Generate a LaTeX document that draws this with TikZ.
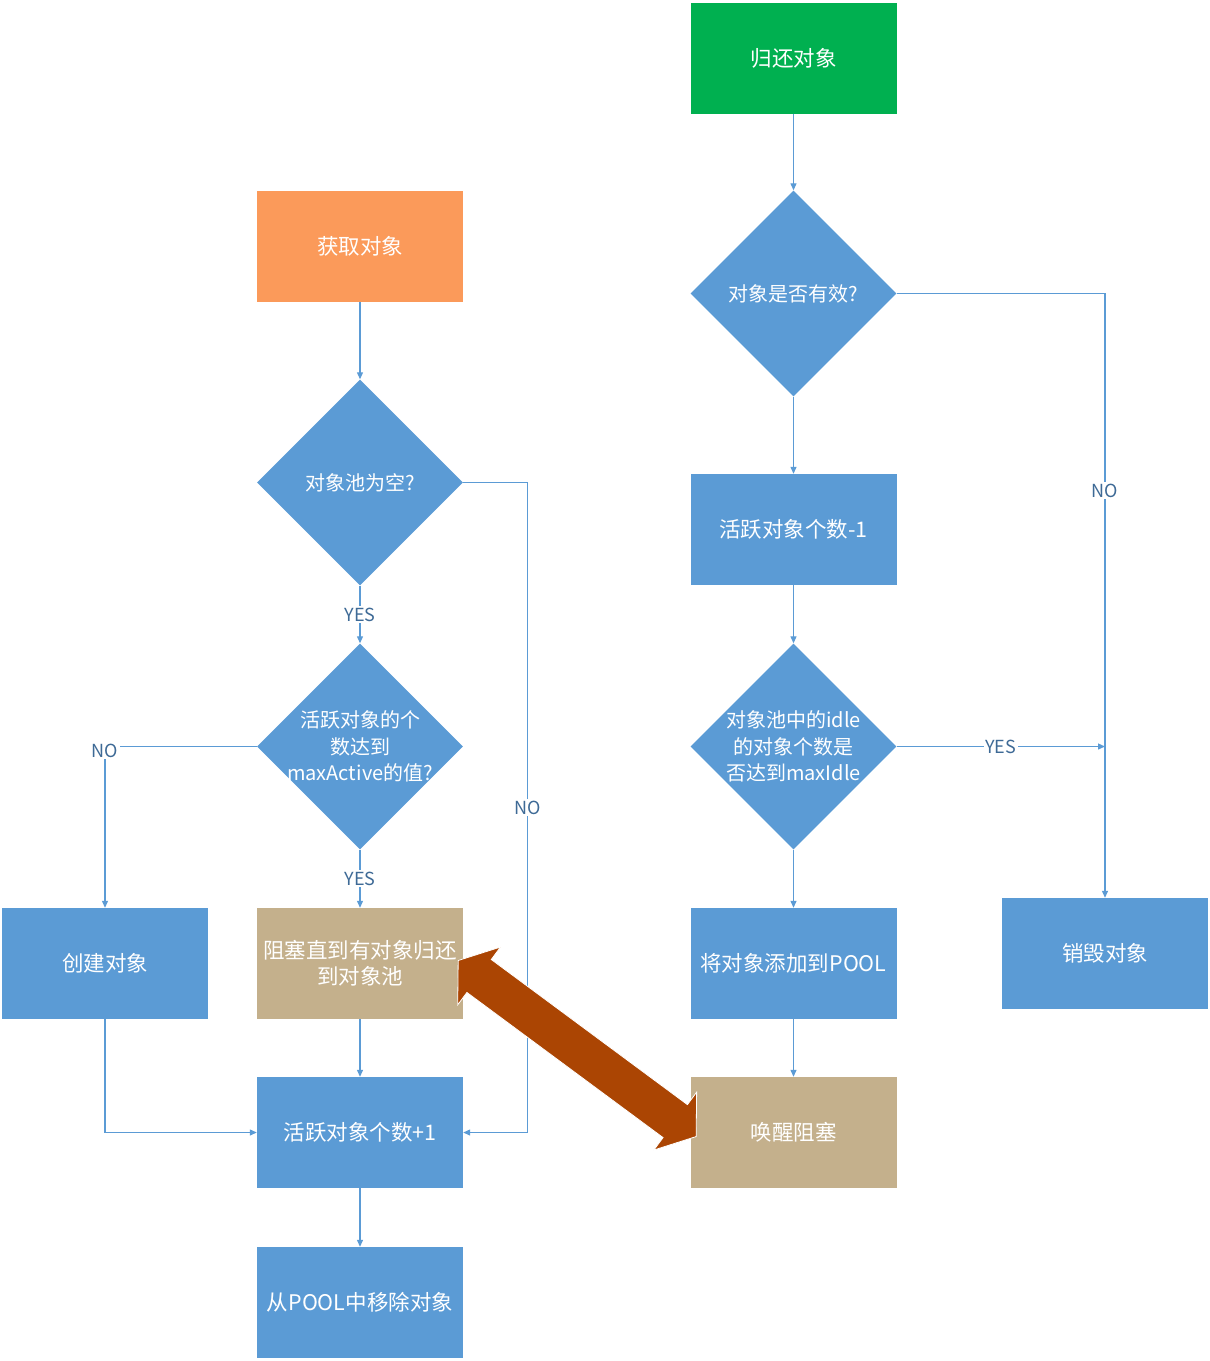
\documentclass[tikz,border=0pt]{standalone}
\usepackage{fontspec}
\setmainfont{Noto Sans CJK SC}
\usetikzlibrary{shapes.geometric,arrows.meta,calc}
\definecolor{boxblue}{HTML}{5B9BD5}
\definecolor{lineblue}{HTML}{5B9BD5}
\definecolor{lblblue}{HTML}{3E6A96}
\definecolor{boxtan}{HTML}{C4B08C}
\definecolor{boxorange}{HTML}{FB9A5A}
\definecolor{boxgreen}{HTML}{00B050}
\definecolor{bigarrow}{HTML}{AB4503}
\begin{document}
\begin{tikzpicture}[x=1pt,y=-1pt,
  box/.style={rectangle, fill=boxblue, minimum width=206pt, minimum height=111pt, inner sep=0pt, text=white, font=\fontsize{21.5}{26}\selectfont, align=center},
  dia/.style={diamond, aspect=1, fill=boxblue, minimum width=206pt, minimum height=206pt, inner sep=0pt},
  dtext/.style={text=white, font=\fontsize{20}{26.5}\selectfont, align=center, inner sep=0pt},
  conn/.style={draw=lineblue, line width=1.2pt, -{Triangle[length=7pt,width=6pt]}},
  lbl/.style={fill=white, text=lblblue, font=\fontsize{18}{20}\selectfont, inner sep=1.5pt}]
\useasboundingbox (0,0) rectangle (1210,1361);

% left column
\node[box, fill=boxorange] (get) at (360,246.5) {获取对象};
\node[dia] (d1) at (360,482.5) {};
\node[dtext] at (d1) {对象池为空?};
\node[dia] (d2) at (360,746.5) {};
\node[dtext] at (d2) {活跃对象的个\\数达到\\maxActive的值?};
\node[box] (create) at (105,963.5) {创建对象};
\node[box, fill=boxtan] (block) at (360,963.5) {阻塞直到有对象归还\\到对象池};
\node[box] (inc) at (360,1132.5) {活跃对象个数+1};
\node[box] (remove) at (360,1302.5) {从POOL中移除对象};

% right column
\node[box, fill=boxgreen] (ret) at (793.5,58) {归还对象};
\node[dia] (d3) at (793.5,293.5) {};
\node[dtext] at (d3) {对象是否有效?};
\node[box] (dec) at (793.5,529.5) {活跃对象个数-1};
\node[dia] (d4) at (793.5,746.5) {};
\node[dtext] at (d4) {对象池中的idle\\的对象个数是\\否达到maxIdle};
\node[box] (add) at (793.5,963.5) {将对象添加到POOL};
\node[box, fill=boxtan] (wake) at (793.5,1132.5) {唤醒阻塞};
\node[box] (destroy) at (1105,953.5) {销毁对象};

% connectors left
\draw[conn] (get) -- (d1);
\draw[conn] (d1) -- node[lbl]{YES} (d2);
\draw[conn] (d1.east) -- ++(64,0) |- node[lbl, pos=0.25]{NO} (inc.east);
\draw[conn] (d2.west) -| node[lbl, pos=0.5, yshift=-4pt]{NO} (create.north);
\draw[conn] (d2) -- node[lbl]{YES} (block);
\draw[conn] (create.south) |- (inc.west);
\draw[conn] (block) -- (inc);
\draw[conn] (inc) -- (remove);

% connectors right
\draw[conn] (ret) -- (d3);
\draw[conn] (d3.east) -| node[lbl, pos=0.663]{NO} (destroy.north);
\draw[conn] (d3) -- (dec);
\draw[conn] (dec) -- (d4);
\draw[conn] (d4.east) -- node[lbl]{YES} (d4.east -| destroy.north);
\draw[conn] (d4) -- (add);
\draw[conn] (add) -- (wake);

% big double arrow
\begin{scope}[shift={($(block.east)+(-5,-3)$)}, rotate=-36.5]
\filldraw[fill=bigarrow, draw=white, line width=0.8pt]
  (0,0) -- (26,36) -- (26,20.5) -- (270,20.5) -- (270,36) -- (296,0)
  -- (270,-36) -- (270,-20.5) -- (26,-20.5) -- (26,-36) -- cycle;
\end{scope}
\end{tikzpicture}
\end{document}
